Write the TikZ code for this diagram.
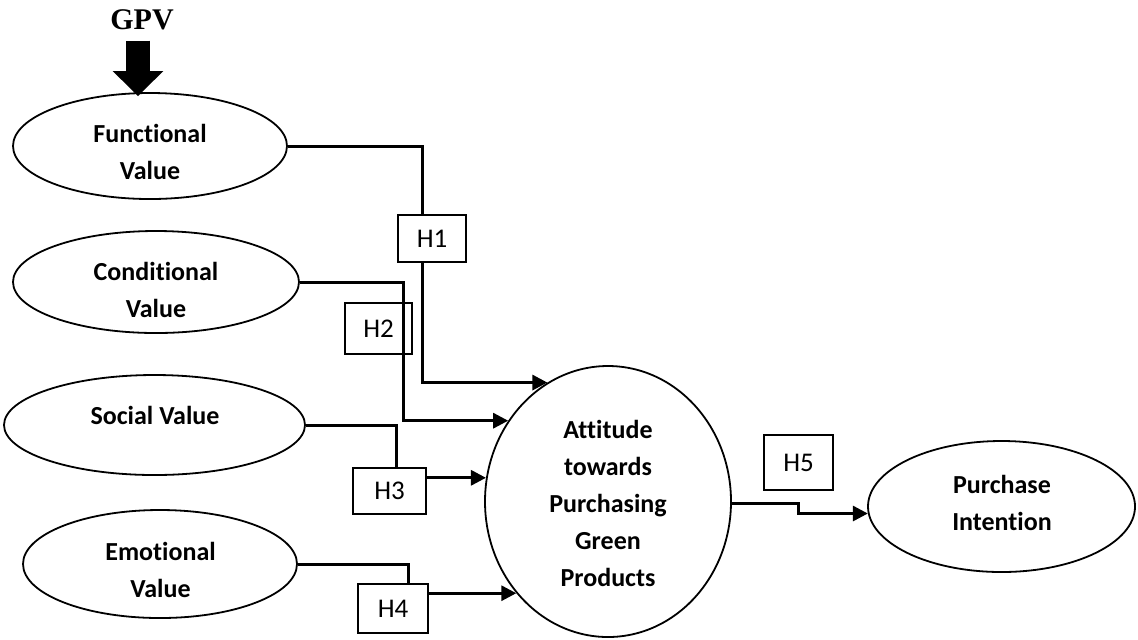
\documentclass[tikz,border=0pt]{standalone}
\usepackage{fontspec}
\setmainfont{Carlito}[Ligatures=NoCommon]
\newfontfamily\gpvfont{Liberation Serif}
\usetikzlibrary{arrows.meta,shapes.geometric}
\tikzset{
    valellipse/.style={draw,ellipse,line width=0.9pt,inner sep=0pt},
    valtext/.style={align=center,font=\fontsize{13pt}{18.5pt}\selectfont\bfseries},
    hbox/.style={draw,line width=1pt,inner sep=0pt,font=\fontsize{13.5pt}{15pt}\selectfont},
    link/.style={line width=1.5pt,-{Triangle[length=7.5pt,width=7.5pt]}},
    plainlink/.style={line width=1.5pt}
}
\begin{document}
\begin{tikzpicture}[x=0.5pt,y=-0.5pt]
            \useasboundingbox (0,0) rectangle (1138,639);
            % constructs
            \node[valellipse,minimum width=137pt,minimum height=53pt] (fv) at (150,146) {};
            \node[valellipse,minimum width=143pt,minimum height=51pt] (cv) at (156,282) {};
            \node[valellipse,minimum width=150.5pt,minimum height=50pt] (sv) at (154.5,425) {};
            \node[valellipse,minimum width=137pt,minimum height=54pt] (ev) at (160,564) {};
            \node[valellipse,minimum width=123pt,minimum height=135.5pt] (att) at (608,501.5) {};
            \node[valellipse,minimum width=133.5pt,minimum height=65.5pt] (pi) at (1001.5,506.5) {};
            \node[valtext] (fvtxt) at (150,151.5) {Functional\\Value};
            \node[valtext] (cvtxt) at (156,290) {Conditional\\Value};
            \node[valtext] (svtxt) at (155,415) {Social Value};
            \node[valtext] (evtxt) at (160.5,570) {Emotional\\Value};
            \node[valtext] (atttxt) at (608,503.5) {Attitude\\towards\\Purchasing\\Green\\Products};
            \node[valtext] (pitxt) at (1002,502.5) {Purchase\\Intention};
            % hypotheses
            \node[hbox,minimum width=34pt,minimum height=23.5pt] (h1) at (432,238.5) {H1};
            \node[hbox,minimum width=33.5pt,minimum height=25.5pt] (h2) at (378.5,328.5) {H2};
            \node[hbox,minimum width=36.5pt,minimum height=23pt] (h3) at (389.5,491) {H3};
            \node[hbox,minimum width=35pt,minimum height=24.5pt] (h4) at (393,608.5) {H4};
            \node[hbox,minimum width=34.5pt,minimum height=27.5pt] (h5) at (798.5,462.5) {H5};
            % GPV
            \node[inner sep=5pt,font=\gpvfont\fontsize{15pt}{17pt}\selectfont\bfseries] (gpv) at (142,20) {GPV};
            \draw[line width=12pt,-{Triangle[length=12.5pt,width=24.5pt]}] ([xshift=-2pt]gpv.south) -- ([xshift=-2pt,yshift=-2pt]gpv.south |- fv.north);
            % paths
            \draw[plainlink] (fv.east) -| ([xshift=-5pt]h1.north);
            \draw[link] ([xshift=-5pt]h1.south) |- (att.117);
            \draw[link] (cv.east) -| ([xshift=12.25pt]h2.center) |- (att.141);
            \draw[plainlink] (sv.east) -| ([xshift=3.25pt]h3.north);
            \draw[link] (att.169 -| h3.east) -- (att.169);
            \draw[plainlink] (ev.east) -| ([xshift=7.5pt]h4.north);
            \draw[link] (att.225 -| h4.east) -- (att.225);
            \draw[link] (att.-1) -| (h5.center |- pi.183) -- (pi.183);
        \end{tikzpicture}
\end{document}
